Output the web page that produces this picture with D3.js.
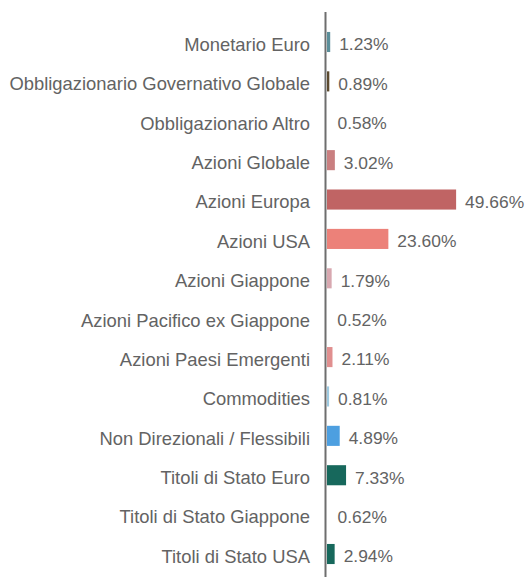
<!DOCTYPE html>
<html>
<head>
<meta charset="utf-8">
<script src="https://cdn.jsdelivr.net/npm/d3@7"></script>
<style>
  body { margin: 0; background: #fff; }
</style>
</head>
<body>
<svg class="vis" width="526" height="577"></svg>
<script>
// data
var categories = [
    "Monetario Euro",
    "Obbligazionario Governativo Globale",
    "Obbligazionario Altro",
    "Azioni Globale",
    "Azioni Europa",
    "Azioni USA",
    "Azioni Giappone",
    "Azioni Pacifico ex Giappone",
    "Azioni Paesi Emergenti",
    "Commodities",
    "Non Direzionali / Flessibili",
    "Titoli di Stato Euro",
    "Titoli di Stato Giappone",
    "Titoli di Stato USA"
];
var values = [1.23, 0.89, 0.58, 3.02, 49.66, 23.60, 1.79, 0.52, 2.11, 0.81, 4.89, 7.33, 0.62, 2.94];
var colors = ["#5b8e99", "#5c4a2e", "#ffffff", "#c97f80", "#c06464", "#ec8179", "#d8a8b0",
    "#ffffff", "#e08f8f", "#9ecae1", "#4d9fe0", "#17685c", "#ffffff", "#17685c"];

var svg = d3.select(".vis");

var x0 = 327;
var x = d3.scaleLinear()
    .domain([0, 50])
    .range([x0, x0 + 130]);

var y = d3.scaleBand()
    .domain(categories)
    .range([22.3, 573.7])
    .paddingInner(0.49)
    .paddingOuter(0.245);

// bars
svg.selectAll(".bar")
    .data(values)
    .join("rect")
    .attr("class", "bar")
    .attr("x", x(0))
    .attr("y", function (d, i) { return y(categories[i]); })
    .attr("width", function (d) { return x(d) - x(0); })
    .attr("height", y.bandwidth())
    .attr("fill", function (d, i) { return colors[i]; });

// category labels
svg.selectAll(".cat")
    .data(categories)
    .join("text")
    .attr("class", "cat")
    .attr("x", 310)
    .attr("y", function (d) { return y(d) + y.bandwidth() / 2; })
    .attr("dy", "0.48em")
    .attr("text-anchor", "end")
    .attr("font-family", "Liberation Sans, Arial, sans-serif")
    .attr("font-size", "18.4px")
    .attr("fill", "#636363")
    .text(function (d) { return d; });

// value labels
svg.selectAll(".val")
    .data(values)
    .join("text")
    .attr("class", "val")
    .attr("x", function (d) { return x(d) + 9; })
    .attr("y", function (d, i) { return y(categories[i]) + y.bandwidth() / 2; })
    .attr("dy", "0.48em")
    .attr("font-family", "Liberation Sans, Arial, sans-serif")
    .attr("font-size", "17.4px")
    .attr("fill", "#636363")
    .text(function (d) { return d.toFixed(2) + "%"; });

// axis line
svg.append("line")
    .attr("x1", 325.5)
    .attr("x2", 325.5)
    .attr("y1", 12)
    .attr("y2", 577)
    .attr("stroke", "#6e6e6e")
    .attr("stroke-width", 2);
</script>
</body>
</html>
